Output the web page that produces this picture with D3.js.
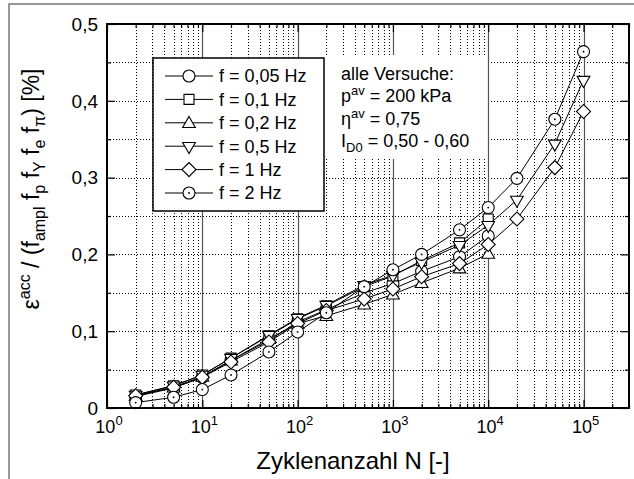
<!DOCTYPE html>
<html>
<head>
<meta charset="utf-8">
<script src="https://cdn.jsdelivr.net/npm/d3@7"></script>
<style>
    body { margin: 0; background: #fff; }
    svg { font-family: "Liberation Sans", Arial, Helvetica, sans-serif; }
    .dot { fill: none; stroke: #000; stroke-width: 1; stroke-dasharray: 1, 2; }
    .tick line { stroke: #000; stroke-width: 1.2; }
    .domain { display: none; }
</style>
</head>
<body>
<svg id="chart" width="634" height="479"></svg>
<script>
    // cycle numbers
    var cycles = [2, 5, 10, 20, 50, 100, 200, 500, 1000, 2000, 5000, 10000, 20000, 50000, 100000];

    // accumulated strain, normalised [%]
    var f005 = [0.015, 0.026, 0.040, 0.062, 0.088, 0.112, 0.128, 0.150, 0.162, 0.178, 0.197, 0.224];
    var f01 = [0.017, 0.029, 0.043, 0.065, 0.094, 0.116, 0.133, 0.158, 0.172, 0.192, 0.215, 0.246];
    var f02 = [0.016, 0.027, 0.041, 0.062, 0.090, 0.110, 0.120, 0.135, 0.148, 0.163, 0.182, 0.201];
    var f05 = [0.017, 0.029, 0.043, 0.065, 0.095, 0.117, 0.134, 0.160, 0.173, 0.190, 0.212, 0.238, 0.271, 0.344, 0.427];
    var f1 = [0.016, 0.027, 0.040, 0.060, 0.086, 0.110, 0.127, 0.142, 0.155, 0.171, 0.188, 0.213, 0.246, 0.313, 0.386];
    var f2 = [0.007, 0.014, 0.024, 0.043, 0.073, 0.099, 0.124, 0.158, 0.180, 0.200, 0.232, 0.261, 0.299, 0.376, 0.464];

    var labels = ["f = 0,05 Hz", "f = 0,1 Hz", "f = 0,2 Hz", "f = 0,5 Hz", "f = 1 Hz", "f = 2 Hz"];
    var markers = ["circle", "square", "up", "down", "diamond", "circledot"];

    var yTicks = [0, 0.1, 0.2, 0.3, 0.4, 0.5];
    var yTickLabels = ["0", "0,1", "0,2", "0,3", "0,4", "0,5"];
    var yMinor = [0.05, 0.15, 0.25, 0.35, 0.45];
    var xExponents = [0, 1, 2, 3, 4, 5];

    var notes = [
        [["alle Versuche:", null]],
        [["p", null], ["av", "sup"], [" = 200 kPa", null]],
        [["\u03b7", null], ["av", "sup"], [" = 0,75", null]],
        [["I", null], ["D0", "sub"], [" = 0,50 - 0,60", null]]
    ];

    var series = [f005, f01, f02, f05, f1, f2].map(function (vals, i) {
        return {
            label: labels[i],
            marker: markers[i],
            points: vals.map(function (v, j) { return [cycles[j], v]; })
        };
    });

    var pLeft = 107, pRight = 629, pTop = 24, pBottom = 408;

    var x = d3.scaleLog().domain([1, 3e5]).range([pLeft, pRight]);
    var y = d3.scaleLinear().domain([0, 0.5]).range([pBottom, pTop]);

    var svg = d3.select("#chart");

    // outer figure frame
    svg.append("rect")
        .attr("x", 9).attr("y", 4)
        .attr("width", 640).attr("height", 490)
        .attr("fill", "none").attr("stroke", "#777").attr("stroke-width", 1.5);

    var xMinor = [], xMajor = [];
    for (var d = 0; d <= 5; d++) {
        for (var k = 1; k <= 9; k++) {
            var v = k * Math.pow(10, d);
            if (v > 3e5) break;
            if (k === 1) xMajor.push(v); else xMinor.push(v);
        }
    }

    var grid = svg.append("g");
    grid.selectAll(".vmin").data(xMinor).enter().append("line")
        .attr("class", "dot")
        .attr("x1", function (d) { return Math.round(x(d)) + 0.5; })
        .attr("x2", function (d) { return Math.round(x(d)) + 0.5; })
        .attr("y1", pTop).attr("y2", pBottom);
    grid.selectAll(".hgrid").data(yMinor.concat(yTicks.slice(1, -1))).enter().append("line")
        .attr("class", "dot")
        .attr("x1", pLeft).attr("x2", pRight)
        .attr("y1", function (d) { return Math.round(y(d)) + 0.5; })
        .attr("y2", function (d) { return Math.round(y(d)) + 0.5; });
    grid.selectAll(".vmaj").data(xMajor.slice(1)).enter().append("line")
        .attr("x1", function (d) { return Math.round(x(d)) + 0.5; })
        .attr("x2", function (d) { return Math.round(x(d)) + 0.5; })
        .attr("y1", pTop).attr("y2", pBottom)
        .attr("stroke", "#555").attr("stroke-width", 1.2);

    // inward ticks on all four sides
    function ticks(axis, values, size, tr) {
        svg.append("g").attr("transform", tr)
            .call(axis.tickValues(values).tickSize(-size).tickFormat(""));
    }
    ticks(d3.axisBottom(x), xMinor, 4, "translate(0," + pBottom + ")");
    ticks(d3.axisBottom(x), xMajor, 8, "translate(0," + pBottom + ")");
    ticks(d3.axisTop(x), xMinor, 4, "translate(0," + pTop + ")");
    ticks(d3.axisTop(x), xMajor, 8, "translate(0," + pTop + ")");
    ticks(d3.axisLeft(y), yMinor, 4, "translate(" + pLeft + ",0)");
    ticks(d3.axisLeft(y), yTicks, 8, "translate(" + pLeft + ",0)");
    ticks(d3.axisRight(y), yMinor, 4, "translate(" + pRight + ",0)");
    ticks(d3.axisRight(y), yTicks, 8, "translate(" + pRight + ",0)");

    // legend box (drawn under the data)
    svg.append("rect")
        .attr("x", 153).attr("y", 58).attr("width", 171).attr("height", 153)
        .attr("fill", "#fff").attr("stroke", "#000").attr("stroke-width", 1.5);

    // annotation background
    svg.append("rect")
        .attr("x", 325).attr("y", 55).attr("width", 161).attr("height", 104)
        .attr("fill", "#fff");

    var line = d3.line()
        .x(function (d) { return x(d[0]); })
        .y(function (d) { return y(d[1]); });

    function drawMarker(g, type) {
        var p;
        if (type === "circle" || type === "circledot") {
            g.append("circle").attr("r", 6);
            if (type === "circledot") g.append("circle").attr("r", 0.9).attr("fill", "#000").attr("stroke", "none");
            return;
        }
        if (type === "square") p = d3.symbol(d3.symbolSquare, 100)();
        else if (type === "diamond") p = d3.symbol(d3.symbolSquare, 98)();
        else p = d3.symbol(d3.symbolTriangle, 70)();
        var path = g.append("path").attr("d", p);
        if (type === "diamond") path.attr("transform", "rotate(45)");
        if (type === "down") path.attr("transform", "rotate(180)");
        if (type === "up") path.attr("transform", "translate(0,1)");
    }

    var plot = svg.append("g");
    plot.selectAll(".line").data(series).enter().append("path")
        .attr("d", function (s) { return line(s.points); })
        .attr("fill", "none").attr("stroke", "#000").attr("stroke-width", 1);

    series.forEach(function (s) {
        plot.selectAll(null).data(s.points).enter().append("g")
            .attr("transform", function (d) { return "translate(" + x(d[0]) + "," + y(d[1]) + ")"; })
            .attr("fill", "#fff").attr("stroke", "#000").attr("stroke-width", 1.1)
            .each(function () { drawMarker(d3.select(this), s.marker); });
    });

    // legend entries
    series.forEach(function (s, i) {
        var ry = 76 + i * 23.4;
        svg.append("line").attr("x1", 165).attr("x2", 213).attr("y1", ry).attr("y2", ry)
            .attr("stroke", "#000").attr("stroke-width", 1);
        var g = svg.append("g").attr("transform", "translate(189," + ry + ")")
            .attr("fill", "#fff").attr("stroke", "#000").attr("stroke-width", 1.1);
        drawMarker(g, s.marker);
        svg.append("text").attr("x", 219).attr("y", ry).attr("dy", "0.36em")
            .attr("font-size", 18).text(s.label);
    });

    // annotation text
    notes.forEach(function (parts, i) {
        var t = svg.append("text").attr("x", 341).attr("y", 80 + i * 22.4).attr("font-size", 18);
        var shift = 0;
        parts.forEach(function (p) {
            var target = p[1] === "sup" ? -7 : p[1] === "sub" ? 5 : 0;
            var ts = t.append("tspan").text(p[0]).attr("dy", target - shift);
            if (p[1]) ts.attr("font-size", 13);
            shift = target;
        });
    });

    // plot frame
    svg.append("rect")
        .attr("x", pLeft).attr("y", pTop).attr("width", pRight - pLeft).attr("height", pBottom - pTop)
        .attr("fill", "none").attr("stroke", "#000").attr("stroke-width", 2);

    // y tick labels
    svg.selectAll(".ylab").data(yTicks).enter().append("text")
        .attr("x", 98).attr("y", function (d) { return y(d); }).attr("dy", "0.36em")
        .attr("text-anchor", "end").attr("font-size", 19)
        .text(function (d, i) { return yTickLabels[i]; });

    // x tick labels 10^n
    svg.selectAll(".xlab").data(xExponents).enter().append("text")
        .attr("x", function (d) { return x(Math.pow(10, d)) + 2; }).attr("y", 433)
        .attr("text-anchor", "middle").attr("font-size", 18)
        .each(function (d) {
            var t = d3.select(this);
            t.append("tspan").text("10");
            t.append("tspan").attr("font-size", 13).attr("dy", -8).text(d);
        });

    // axis titles
    svg.append("text").attr("x", 353).attr("y", 469)
        .attr("text-anchor", "middle").attr("font-size", 24).text("Zyklenanzahl N [-]");

    var yt = svg.append("text").attr("transform", "translate(39,189) rotate(-90)")
        .attr("text-anchor", "middle").attr("font-size", 23);
    var yParts = [["\u03b5", 0], ["acc", "sup"], [" / (f", 0], ["ampl", "sub"], [" f", 0], ["p", "sub"],
        [" f", 0], ["Y", "sub"], [" f", 0], ["e", "sub"], [" f", 0], ["\u03c0", "sub"], [") [%]", 0]];
    var shift = 0;
    yParts.forEach(function (p) {
        var target = p[1] === "sup" ? -9 : p[1] === "sub" ? 6 : 0;
        var ts = yt.append("tspan").text(p[0]).attr("dy", target - shift);
        if (p[1]) ts.attr("font-size", 16);
        shift = target;
    });
</script>
</body>
</html>
